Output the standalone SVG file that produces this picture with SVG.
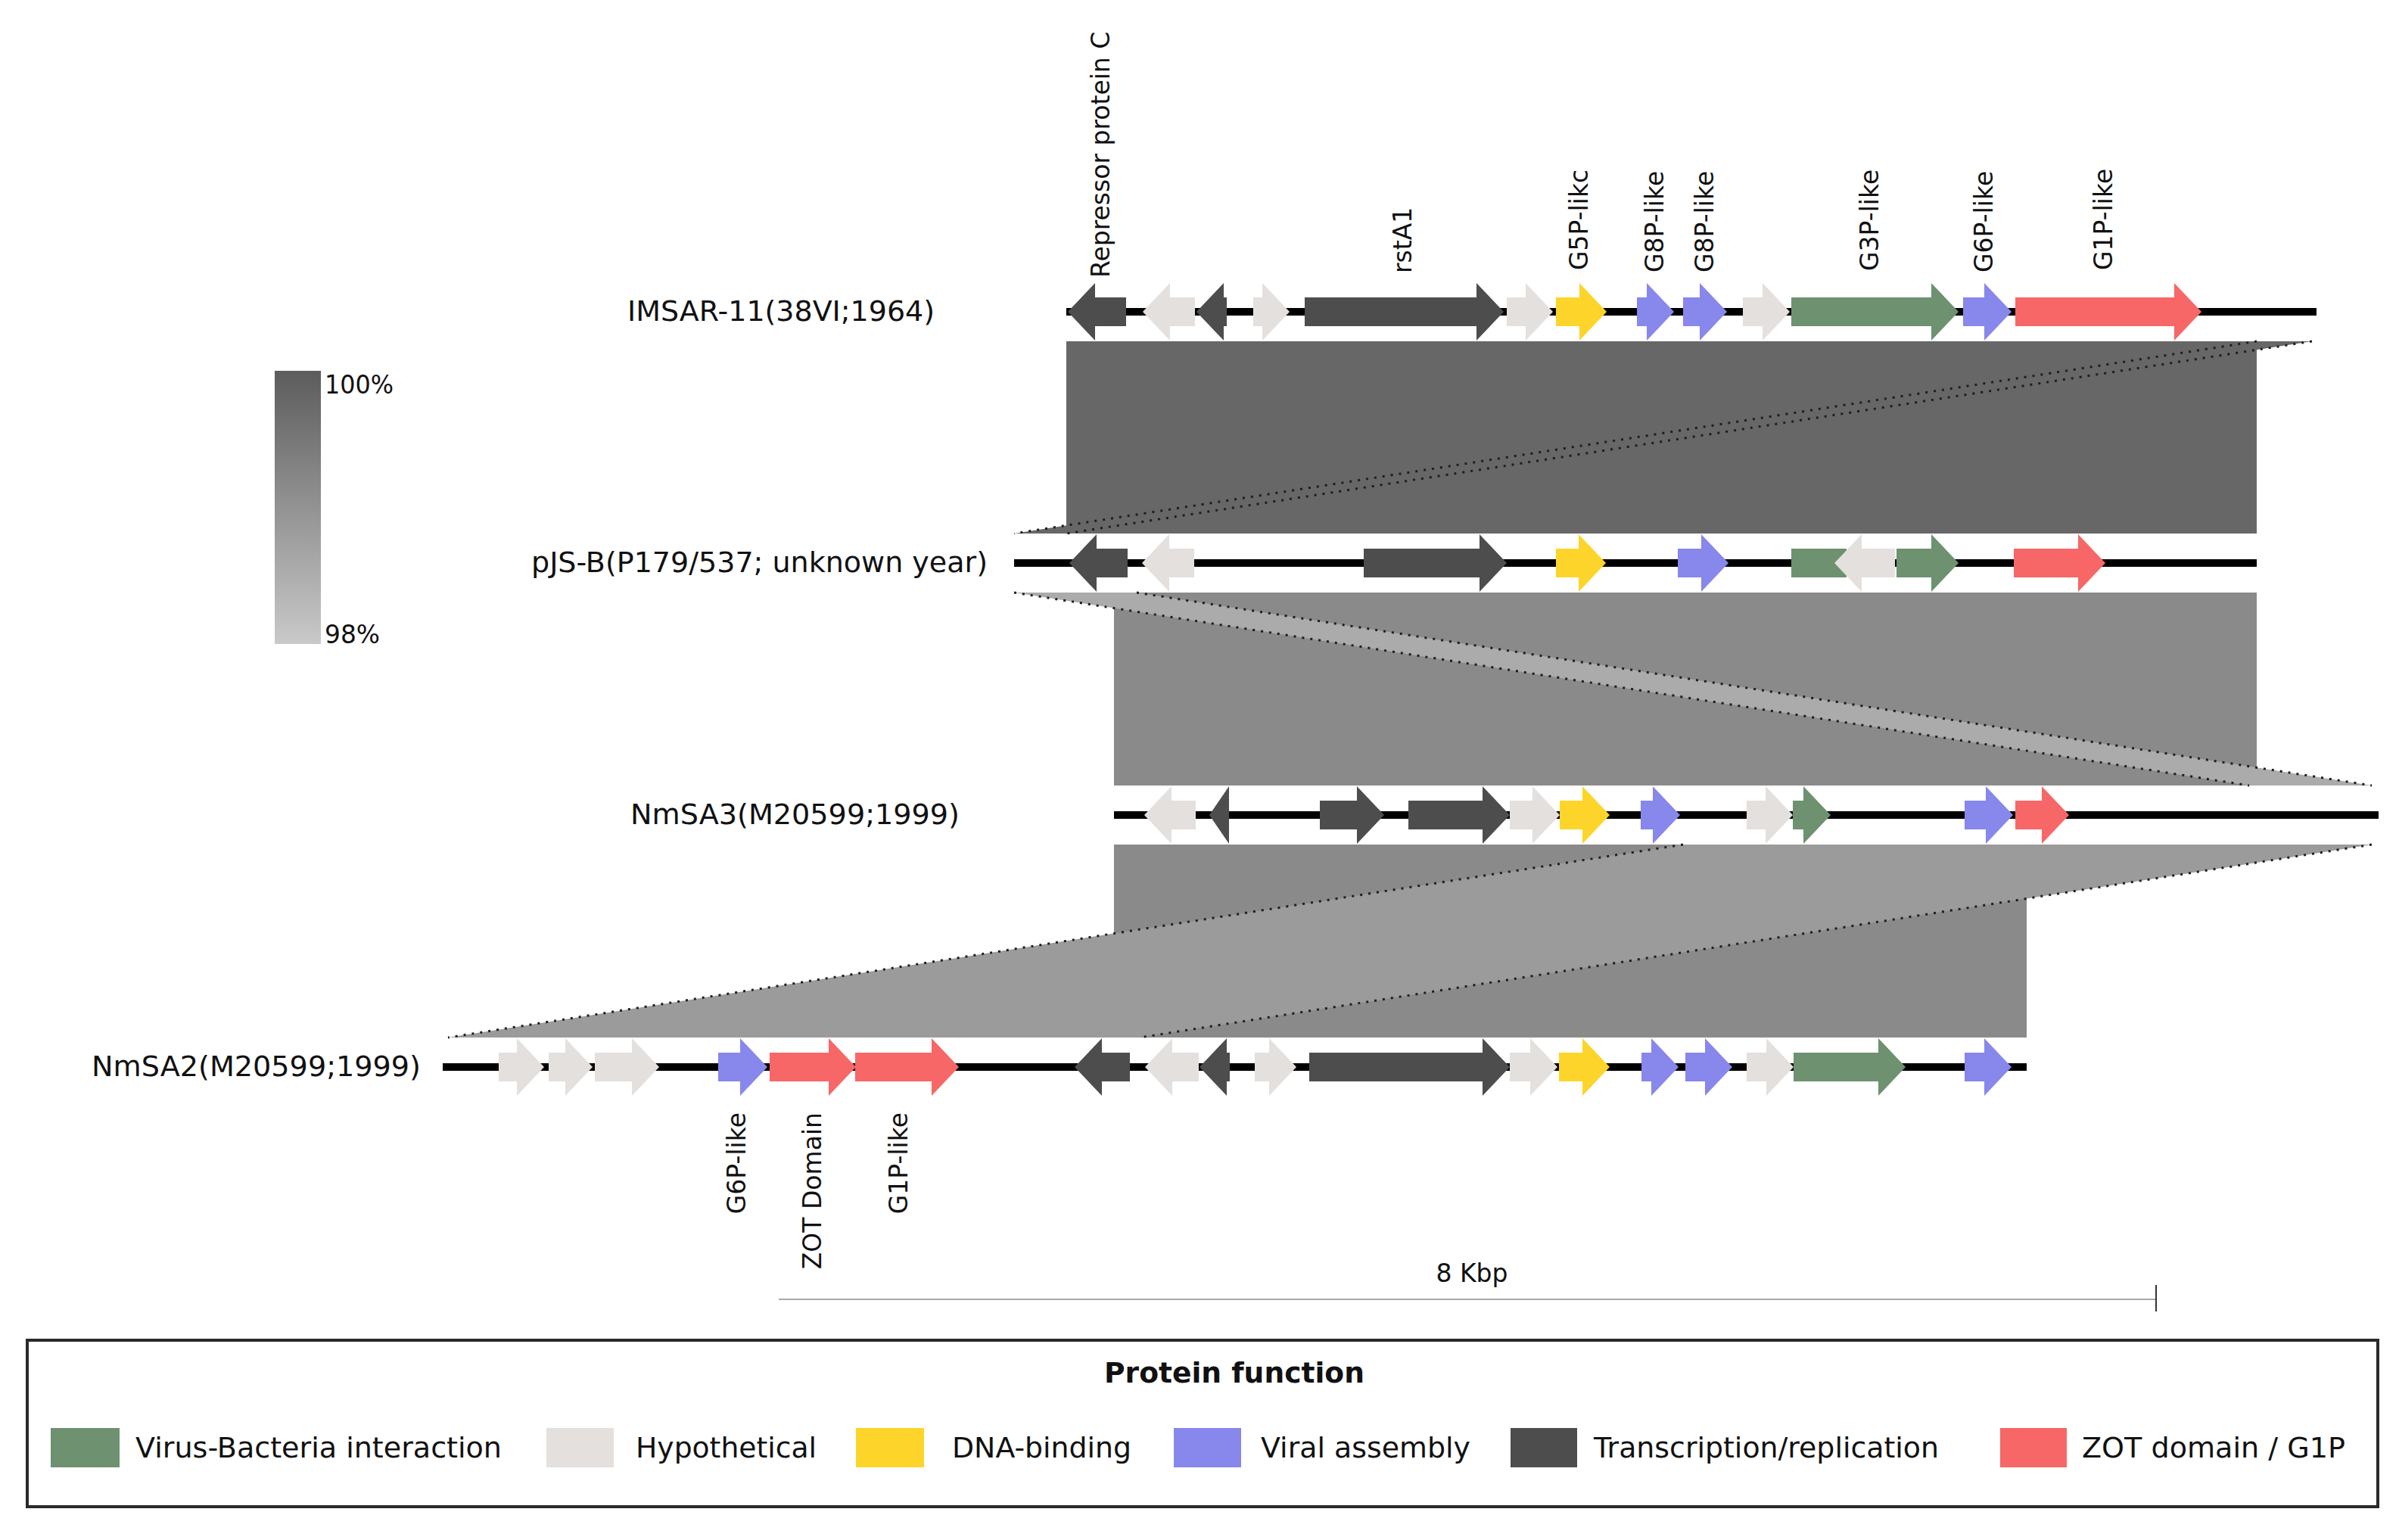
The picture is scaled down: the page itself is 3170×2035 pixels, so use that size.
<svg xmlns="http://www.w3.org/2000/svg" width="3170" height="2035" viewBox="0 0 3170 2035">
<style>
text{font-family:"DejaVu Sans","Liberation Sans",sans-serif;fill:#111}
.gl{font-size:33px}
.nl{font-size:38px}
.lg{font-size:38px}
.tt{font-size:38px;font-weight:bold}
.pc{font-size:34px}
.bb{fill:#000}
.vb{fill:#6e9170}
.hy{fill:#e4e0dd}
.dn{fill:#fdd52a}
.va{fill:#8787ec}
.tr{fill:#4d4d4d}
.zo{fill:#f76767}
.dot{fill:none;stroke:#1e1e1e;stroke-width:3;stroke-dasharray:3 8}
</style>
<defs>
<linearGradient id="idgrad" x1="0" y1="0" x2="0" y2="1">
<stop offset="0" stop-color="#5c5c5c"/>
<stop offset="1" stop-color="#c9c9c9"/>
</linearGradient>
</defs>
<rect width="3170" height="2035" fill="#fff"/>

<g id="connectors">
<polygon points="1409,451 2982,451 2982,705 1409,705" fill="#676767"/>
<polygon points="2982,451 3055,451 1409,705 1340,705" fill="#676767"/>
<line class="dot" x1="2982" y1="451" x2="1340" y2="705"/>
<line class="dot" x1="3055" y1="451" x2="1409" y2="705"/>

<polygon points="1472,783 2982,783 2982,1038 1472,1038" fill="#8a8a8a"/>
<polygon points="1340,783 1502,783 3134,1038 2972,1038" fill="#ababab"/>
<line class="dot" x1="1340" y1="783" x2="2972" y2="1038"/>
<line class="dot" x1="1502" y1="783" x2="3134" y2="1038"/>

<polygon points="1472,1116 2678,1116 2678,1371 1472,1371" fill="#8a8a8a"/>
<polygon points="2224,1116 3134,1116 1506,1371 592,1371" fill="#9b9b9b"/>
<line class="dot" x1="2224" y1="1116" x2="592" y2="1371"/>
<line class="dot" x1="3134" y1="1116" x2="1506" y2="1371"/>
</g>

<g id="identity-scale">
<rect x="363" y="490" width="61" height="361" fill="url(#idgrad)"/>
<text class="pc" x="429" y="520" textLength="91" lengthAdjust="spacingAndGlyphs">100%</text>
<text class="pc" x="429" y="850" textLength="73" lengthAdjust="spacingAndGlyphs">98%</text>
</g>

<g id="genome-IMSAR-11">
<text class="nl" x="829" y="424" textLength="406" lengthAdjust="spacingAndGlyphs">IMSAR-11(38VI;1964)</text>
<rect class="bb" x="1409" y="407" width="1652" height="10"/>
<polygon class="tr" points="1411,412 1447,374 1447,393 1488,393 1488,431 1447,431 1447,450"/>
<polygon class="hy" points="1510,412 1546,374 1546,393 1579,393 1579,431 1546,431 1546,450"/>
<polygon class="tr" points="1581,412 1617,374 1617,393 1621,393 1621,431 1617,431 1617,450"/>
<polygon class="hy" points="1656,393 1668,393 1668,374 1704,412 1668,450 1668,431 1656,431"/>
<polygon class="tr" points="1724,393 1951,393 1951,374 1987,412 1951,450 1951,431 1724,431"/>
<polygon class="hy" points="1991,393 2016,393 2016,374 2052,412 2016,450 2016,431 1991,431"/>
<polygon class="dn" points="2056,393 2087,393 2087,374 2123,412 2087,450 2087,431 2056,431"/>
<polygon class="va" points="2163,393 2176,393 2176,374 2212,412 2176,450 2176,431 2163,431"/>
<polygon class="va" points="2224,393 2246,393 2246,374 2282,412 2246,450 2246,431 2224,431"/>
<polygon class="hy" points="2303,393 2329,393 2329,374 2365,412 2329,450 2329,431 2303,431"/>
<polygon class="vb" points="2367,393 2552,393 2552,374 2588,412 2552,450 2552,431 2367,431"/>
<polygon class="va" points="2594,393 2622,393 2622,374 2658,412 2622,450 2622,431 2594,431"/>
<polygon class="zo" points="2663,393 2873,393 2873,374 2909,412 2873,450 2873,431 2663,431"/>
<text class="gl" transform="translate(1466,367) rotate(-90)">Repressor protein C</text>
<text class="gl" transform="translate(1865,361) rotate(-90)">rstA1</text>
<text class="gl" transform="translate(2098,357) rotate(-90)">G5P-likc</text>
<text class="gl" transform="translate(2198,360) rotate(-90)">G8P-like</text>
<text class="gl" transform="translate(2264,360) rotate(-90)">G8P-like</text>
<text class="gl" transform="translate(2482,358) rotate(-90)">G3P-like</text>
<text class="gl" transform="translate(2633,360) rotate(-90)">G6P-like</text>
<text class="gl" transform="translate(2791,357) rotate(-90)">G1P-like</text>
</g>

<g id="genome-pJS-B">
<text class="nl" x="702" y="756" textLength="603" lengthAdjust="spacingAndGlyphs">pJS-B(P179/537; unknown year)</text>
<rect class="bb" x="1340" y="739" width="1642" height="10"/>
<polygon class="tr" points="1413,744 1449,706 1449,725 1490,725 1490,763 1449,763 1449,782"/>
<polygon class="hy" points="1509,744 1545,706 1545,725 1578,725 1578,763 1545,763 1545,782"/>
<polygon class="tr" points="1802,725 1955,725 1955,706 1991,744 1955,782 1955,763 1802,763"/>
<polygon class="dn" points="2056,725 2086,725 2086,706 2122,744 2086,782 2086,763 2056,763"/>
<polygon class="va" points="2217,725 2248,725 2248,706 2284,744 2248,782 2248,763 2217,763"/>
<rect class="vb" x="2367" y="725" width="73" height="38"/>
<polygon class="hy" points="2424,744 2460,706 2460,725 2504,725 2504,763 2460,763 2460,782"/>
<polygon class="vb" points="2506,725 2552,725 2552,706 2588,744 2552,782 2552,763 2506,763"/>
<polygon class="zo" points="2661,725 2746,725 2746,706 2782,744 2746,782 2746,763 2661,763"/>
</g>

<g id="genome-NmSA3">
<text class="nl" x="833" y="1089" textLength="435" lengthAdjust="spacingAndGlyphs">NmSA3(M20599;1999)</text>
<rect class="bb" x="1472" y="1072" width="1671" height="10"/>
<polygon class="hy" points="1512,1077 1548,1039 1548,1058 1580,1058 1580,1096 1548,1096 1548,1115"/>
<polygon class="tr" points="1598,1077 1624,1039 1624,1115"/>
<polygon class="tr" points="1744,1058 1793,1058 1793,1039 1829,1077 1793,1115 1793,1096 1744,1096"/>
<polygon class="tr" points="1861,1058 1959,1058 1959,1039 1995,1077 1959,1115 1959,1096 1861,1096"/>
<polygon class="hy" points="1995,1058 2025,1058 2025,1039 2061,1077 2025,1115 2025,1096 1995,1096"/>
<polygon class="dn" points="2061,1058 2091,1058 2091,1039 2127,1077 2091,1115 2091,1096 2061,1096"/>
<polygon class="va" points="2168,1058 2184,1058 2184,1039 2220,1077 2184,1115 2184,1096 2168,1096"/>
<polygon class="hy" points="2308,1058 2333,1058 2333,1039 2369,1077 2333,1115 2333,1096 2308,1096"/>
<polygon class="vb" points="2369,1058 2383,1058 2383,1039 2419,1077 2383,1115 2383,1096 2369,1096"/>
<polygon class="va" points="2596,1058 2624,1058 2624,1039 2660,1077 2624,1115 2624,1096 2596,1096"/>
<polygon class="zo" points="2663,1058 2698,1058 2698,1039 2734,1077 2698,1115 2698,1096 2663,1096"/>
</g>

<g id="genome-NmSA2">
<text class="nl" x="121" y="1422" textLength="435" lengthAdjust="spacingAndGlyphs">NmSA2(M20599;1999)</text>
<rect class="bb" x="585" y="1405" width="2093" height="10"/>
<polygon class="hy" points="659,1391 683,1391 683,1372 719,1410 683,1448 683,1429 659,1429"/>
<polygon class="hy" points="725,1391 747,1391 747,1372 783,1410 747,1448 747,1429 725,1429"/>
<polygon class="hy" points="786,1391 835,1391 835,1372 871,1410 835,1448 835,1429 786,1429"/>
<polygon class="va" points="949,1391 978,1391 978,1372 1014,1410 978,1448 978,1429 949,1429"/>
<polygon class="zo" points="1017,1391 1095,1391 1095,1372 1131,1410 1095,1448 1095,1429 1017,1429"/>
<polygon class="zo" points="1130,1391 1231,1391 1231,1372 1267,1410 1231,1448 1231,1429 1130,1429"/>
<polygon class="tr" points="1420,1410 1456,1372 1456,1391 1493,1391 1493,1429 1456,1429 1456,1448"/>
<polygon class="hy" points="1513,1410 1549,1372 1549,1391 1584,1391 1584,1429 1549,1429 1549,1448"/>
<polygon class="tr" points="1585,1410 1621,1372 1621,1391 1625,1391 1625,1429 1621,1429 1621,1448"/>
<polygon class="hy" points="1658,1391 1677,1391 1677,1372 1713,1410 1677,1448 1677,1429 1658,1429"/>
<polygon class="tr" points="1730,1391 1959,1391 1959,1372 1995,1410 1959,1448 1959,1429 1730,1429"/>
<polygon class="hy" points="1995,1391 2022,1391 2022,1372 2058,1410 2022,1448 2022,1429 1995,1429"/>
<polygon class="dn" points="2060,1391 2091,1391 2091,1372 2127,1410 2091,1448 2091,1429 2060,1429"/>
<polygon class="va" points="2169,1391 2182,1391 2182,1372 2218,1410 2182,1448 2182,1429 2169,1429"/>
<polygon class="va" points="2227,1391 2253,1391 2253,1372 2289,1410 2253,1448 2253,1429 2227,1429"/>
<polygon class="hy" points="2308,1391 2334,1391 2334,1372 2370,1410 2334,1448 2334,1429 2308,1429"/>
<polygon class="vb" points="2370,1391 2482,1391 2482,1372 2518,1410 2482,1448 2482,1429 2370,1429"/>
<polygon class="va" points="2596,1391 2622,1391 2622,1372 2658,1410 2622,1448 2622,1429 2596,1429"/>
<text class="gl" text-anchor="end" transform="translate(985,1470) rotate(-90)">G6P-like</text>
<text class="gl" text-anchor="end" transform="translate(1085,1470) rotate(-90)">ZOT Domain</text>
<text class="gl" text-anchor="end" transform="translate(1199,1470) rotate(-90)">G1P-like</text>
</g>

<g id="scale-bar">
<line x1="1029" y1="1717" x2="2849" y2="1717" stroke="#a8a8a8" stroke-width="2"/>
<line x1="2849" y1="1698" x2="2849" y2="1733" stroke="#333" stroke-width="2"/>
<text class="gl" x="1945" y="1694" text-anchor="middle">8 Kbp</text>
</g>

<g id="legend">
<rect x="36" y="1771" width="3106" height="220" fill="#fff" stroke="#2a2a2a" stroke-width="4"/>
<text class="tt" x="1631" y="1827" text-anchor="middle" textLength="344" lengthAdjust="spacingAndGlyphs">Protein function</text>
<rect class="vb" x="67" y="1887" width="91" height="52"/>
<text class="lg" x="179" y="1926" textLength="484" lengthAdjust="spacingAndGlyphs">Virus-Bacteria interaction</text>
<rect class="hy" x="722" y="1887" width="89" height="52"/>
<text class="lg" x="840" y="1926" textLength="239" lengthAdjust="spacingAndGlyphs">Hypothetical</text>
<rect class="dn" x="1131" y="1887" width="90" height="52"/>
<text class="lg" x="1258" y="1926" textLength="237" lengthAdjust="spacingAndGlyphs">DNA-binding</text>
<rect class="va" x="1551" y="1887" width="89" height="52"/>
<text class="lg" x="1666" y="1926" textLength="277" lengthAdjust="spacingAndGlyphs">Viral assembly</text>
<rect class="tr" x="1996" y="1887" width="88" height="52"/>
<text class="lg" x="2106" y="1926" textLength="456" lengthAdjust="spacingAndGlyphs">Transcription/replication</text>
<rect class="zo" x="2643" y="1887" width="88" height="52"/>
<text class="lg" x="2751" y="1926" textLength="348" lengthAdjust="spacingAndGlyphs">ZOT domain / G1P</text>
</g>
</svg>
